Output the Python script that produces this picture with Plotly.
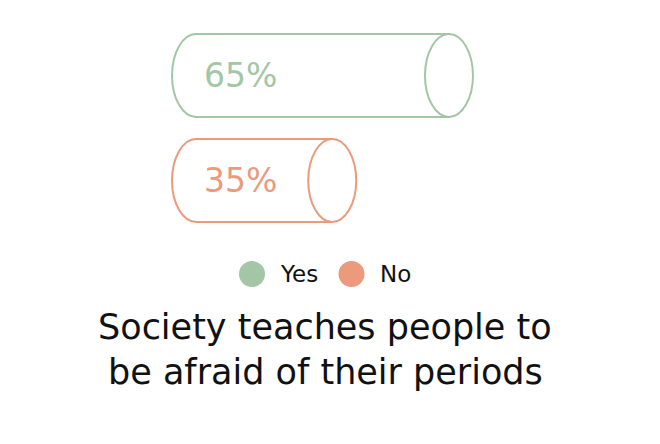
"""
Cylinder bar chart: share of respondents answering Yes / No.
"""
import plotly.graph_objects as go

categories = ["Yes", "No"]
values = [65, 35]
title_lines = ["Society teaches people to", "be afraid of their periods"]

COLORS = {"Yes": "#a2c6a6", "No": "#eb9a7b"}
FONT = "'DejaVu Sans', sans-serif"

W, H = 660, 444
PAGE_OFF = 8                       # default body margin of the html page
X0_PX, UNIT_PX = 196 - PAGE_OFF, 3.892   # pixel of value 0, pixels per percent
ROW0_PX, ROW_STEP = 75.5 - PAGE_OFF, 105  # pixel center of first bar, pixels per row
CAP_W = 24 / UNIT_PX               # ellipse half-width in data units
HALF_H = 41.5 / ROW_STEP           # bar half-height in data units
K = 0.5523                         # bezier ellipse constant


def px(v):
    return v - PAGE_OFF


fig = go.Figure()
# invisible trace so the axes exist
fig.add_trace(go.Scatter(x=values, y=list(range(len(values))), mode="markers",
                         marker=dict(opacity=0), hoverinfo="skip", showlegend=False))

shapes = []
annotations = []

# ── Cylinders ────────────────────────────────────────────────────────────────
for i, (cat, val) in enumerate(zip(categories, values)):
    c = COLORS[cat]
    top, bot = i - HALF_H, i + HALF_H
    path = (
        f"M {val},{top} L 0,{top} "
        f"C {-K * CAP_W},{top} {-CAP_W},{i - K * HALF_H} {-CAP_W},{i} "
        f"C {-CAP_W},{i + K * HALF_H} {-K * CAP_W},{bot} 0,{bot} "
        f"L {val},{bot}"
    )
    shapes.append(dict(type="path", path=path, xref="x", yref="y",
                       line=dict(color=c, width=2)))
    shapes.append(dict(type="circle", xref="x", yref="y",
                       x0=val - CAP_W, x1=val + CAP_W, y0=top, y1=bot,
                       line=dict(color=c, width=2), fillcolor="white"))
    annotations.append(dict(x=6 / UNIT_PX, y=i, xref="x", yref="y",
                            text=f"{val}%", showarrow=False,
                            xanchor="left", yanchor="middle",
                            font=dict(family=FONT, size=33, color=c)))

# ── Legend ───────────────────────────────────────────────────────────────────
legend_x = [252, 351.5]
for cat, cx in zip(categories, legend_x):
    cx, cy = px(cx), px(274)
    shapes.append(dict(type="circle", xref="paper", yref="paper",
                       x0=(cx - 13) / W, x1=(cx + 13) / W,
                       y0=1 - (cy + 13) / H, y1=1 - (cy - 13) / H,
                       line=dict(width=0), fillcolor=COLORS[cat]))
    annotations.append(dict(x=(cx + 26) / W, y=1 - cy / H, xref="paper", yref="paper",
                            text=cat, showarrow=False, xanchor="left", yanchor="middle",
                            font=dict(family=FONT, size=23, color="#111111")))

# ── Title under the chart ────────────────────────────────────────────────────
for line, cy in zip(title_lines, [327, 371.5]):
    annotations.append(dict(x=px(325) / W, y=1 - px(cy) / H, xref="paper", yref="paper",
                            text=line, showarrow=False, xanchor="center", yanchor="middle",
                            font=dict(family=FONT, size=35, color="#111111")))

fig.update_layout(
    width=W, height=H,
    margin=dict(l=0, r=0, t=0, b=0),
    paper_bgcolor="white", plot_bgcolor="white",
    shapes=shapes, annotations=annotations,
    showlegend=False,
    xaxis=dict(range=[-X0_PX / UNIT_PX, (W - X0_PX) / UNIT_PX],
               visible=False, fixedrange=True),
    yaxis=dict(range=[(H - ROW0_PX) / ROW_STEP, -ROW0_PX / ROW_STEP],
               visible=False, fixedrange=True),
)

fig.write_html("out.html")
